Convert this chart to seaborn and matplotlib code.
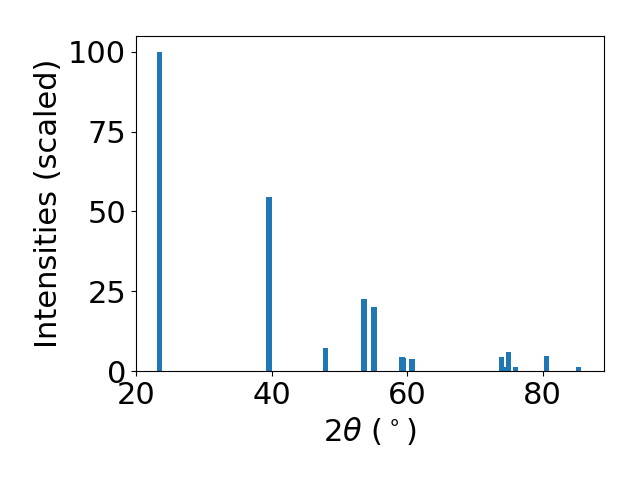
import numpy as np
import matplotlib
matplotlib.use("Agg")
import matplotlib.pyplot as plt
import pandas as pd
import seaborn as sns

# 衍射峰位置 (2θ) 与缩放后的强度
two_theta = [23.46, 39.60, 47.93, 53.68, 55.15, 59.25, 59.43, 60.75,
             73.94, 74.43, 74.95, 75.98, 80.58, 85.29]
intensities = [100.0, 54.5, 7.2, 22.6, 20.1, 4.4, 4.1, 3.8,
               4.4, 1.2, 6.0, 1.3, 4.7, 1.3]

df = pd.DataFrame({"two_theta": two_theta, "intensity": intensities})

fig, ax = plt.subplots(figsize=(6.4, 4.8), dpi=100)

# native_scale 时宽度相对于最小间距，换算成约 0.8 度
min_gap = np.diff(np.sort(df["two_theta"].values)).min()
sns.barplot(data=df, x="two_theta", y="intensity", native_scale=True,
            width=0.8 / min_gap, color="#1f77b4", saturation=1,
            errorbar=None, ax=ax)

ax.set_xlim(20, 89.1)
ax.set_ylim(0, 105)
ax.set_xticks([20, 40, 60, 80])
ax.set_yticks([0, 25, 50, 75, 100])
ax.tick_params(labelsize=22)
ax.set_xlabel(r"$2\theta$ ($^\circ$)", fontsize=22)
ax.set_ylabel("Intensities (scaled)", fontsize=22)

plt.subplots_adjust(left=0.2125, right=0.944, top=0.925, bottom=0.227)
plt.savefig("out.png", dpi=100)
